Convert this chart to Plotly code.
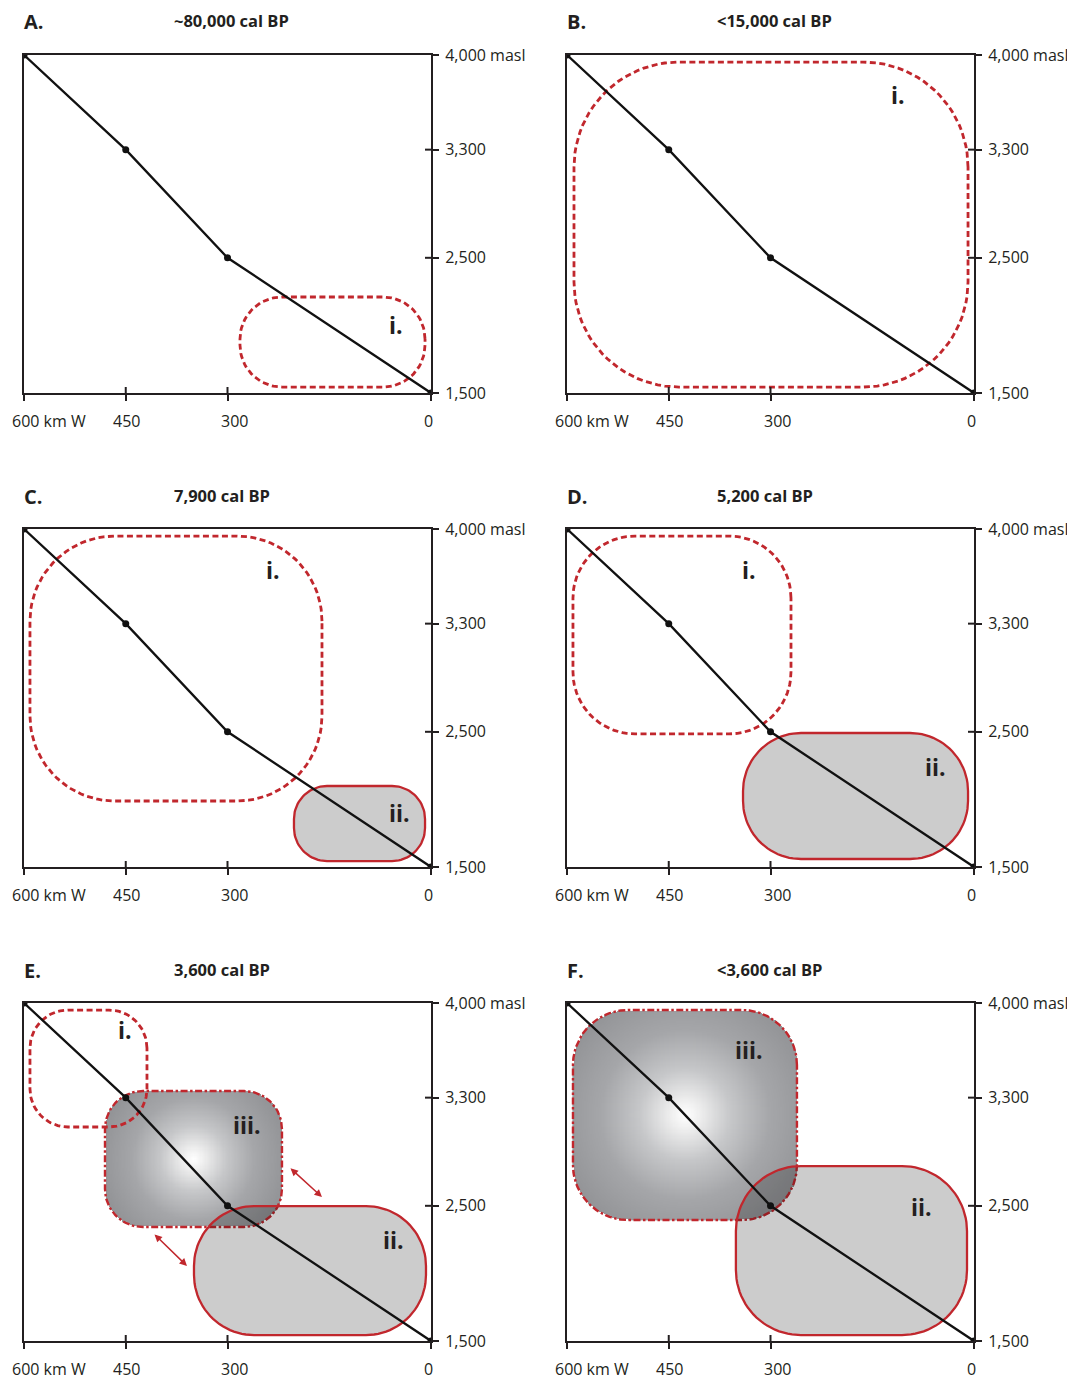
import numpy as np
import plotly.graph_objects as go

W, H = 1075, 1379

# ---------------- data ----------------
distance_km = [600, 450, 300, 0]
elevation_m = [4000, 3300, 2500, 1500]

x_tick_vals = [600, 450, 300, 0]
x_tick_text = ["600 km W", "450", "300", "0"]
y_tick_vals = [4000, 3300, 2500, 1500]
y_tick_text = ["4,000 masl", "3,300", "2,500", "1,500"]

panel_letters = ["A.", "B.", "C.", "D.", "E.", "F."]
panel_titles = ["~80,000 cal BP", "<15,000 cal BP", "7,900 cal BP",
                "5,200 cal BP", "3,600 cal BP", "<3,600 cal BP"]

# zones (km west of reference point, masl)
zone_panel = [0, 1, 2, 2, 3, 3, 4, 4, 4, 5, 5]
zone_label = ["i.", "i.", "i.", "ii.", "i.", "ii.", "i.", "iii.", "ii.", "iii.", "ii."]
zone_kind = ["dashed", "dashed", "dashed", "solid", "dashed", "solid",
             "dashed", "gradient", "solid", "gradient", "solid"]
zone_km_west = [281.6, 589.7, 591.2, 202.0, 591.2, 340.5, 591.2, 480.6, 349.4, 591.2, 351.0]
zone_km_east = [8.8, 8.8, 160.7, 8.8, 269.8, 8.8, 418.7, 219.7, 7.4, 261.0, 10.3]
zone_masl_low = [1544, 1544, 1988, 1544, 2484, 1559, 3083, 2343, 1544, 2395, 1544]
zone_masl_high = [2210, 3948, 3948, 2099, 3948, 2491, 3948, 3349, 2498, 3948, 2794]
zone_label_km = [51.6, 112, 233, 47, 332, 57.4, 451, 271, 56, 332, 78]
zone_label_masl = [2003, 3704, 3697, 1899, 3697, 2240, 3800, 3098, 2247, 3652, 2491]

# arrows in panel E
arrow_panel = [4, 4]
arrow_km_a = [209.3, 409.8]
arrow_masl_a = [2787, 2299]
arrow_km_b = [160.7, 359.7]
arrow_masl_b = [2565, 2055]

# ---------------- style ----------------
zone_corner_px = [42, 105, 85, 33, 62, 58, 38, 38, 60, 55, 65]
RED = "#c1272d"
INK = "#231f20"
FONT = "Open Sans"
OFF = 8  # page body margin

col_left_px = [24 - OFF, 567 - OFF]
row_top_px = [55 - OFF, 529 - OFF, 1003 - OFF]
PW, PH = 407, 338
SX = PW / 600.0      # px per km
SY = PH / 2500.0     # px per m

fig = go.Figure()


def axis_names(p):
    n = p + 1
    return ("x" if n == 1 else f"x{n}"), ("y" if n == 1 else f"y{n}")


def to_px(km, m):
    return (600 - np.asarray(km)) * SX, (np.asarray(m) - 1500) * SY


def from_px(X, Y):
    return 600 - np.asarray(X) / SX, 1500 + np.asarray(Y) / SY


def rounded_outline(xw, xe, ylo, yhi, r):
    (L, B) = to_px(xw, ylo)
    (R, T) = to_px(xe, yhi)
    r = min(r, (R - L) / 2, (T - B) / 2)
    pts_x, pts_y = [], []
    corners = [(R - r, T - r, 0), (L + r, T - r, 90), (L + r, B + r, 180), (R - r, B + r, 270)]
    for cx, cy, a0 in corners:
        a = np.radians(np.linspace(a0, a0 + 90, 24))
        pts_x.extend(cx + r * np.cos(a))
        pts_y.extend(cy + r * np.sin(a))
    pts_x.append(pts_x[0])
    pts_y.append(pts_y[0])
    km, m = from_px(pts_x, pts_y)
    return list(km), list(m)


grad_scale = [[0, "#ffffff"], [0.12, "#ededed"], [0.35, "#c6c7c9"],
              [0.65, "#a5a6a9"], [1, "#939497"]]

# gradient zones first (heatmaps are drawn beneath scatter traces)
for k in range(len(zone_panel)):
    if zone_kind[k] != "gradient":
        continue
    xa, ya = axis_names(zone_panel[k])
    L, B = to_px(zone_km_west[k], zone_masl_low[k])
    R, T = to_px(zone_km_east[k], zone_masl_high[k])
    Xs = np.arange(L, R + 1.2, 1.2)
    Ys = np.arange(B, T + 1.2, 1.2)
    cx, cy = (L + R) / 2, (B + T) / 2
    w2, h2 = (R - L) / 2, (T - B) / 2
    r = min(zone_corner_px[k], w2, h2)
    GX, GY = np.meshgrid(Xs, Ys)
    dx, dy = GX - cx, GY - cy
    qx = np.maximum(np.abs(dx) - (w2 - r), 0)
    qy = np.maximum(np.abs(dy) - (h2 - r), 0)
    inside = (np.abs(dx) <= w2) & (np.abs(dy) <= h2) & (np.hypot(qx, qy) <= r)
    Rg = 0.6 * (w2 + h2)
    z = np.minimum(np.hypot(dx, dy) / Rg, 1.0)
    z = np.where(inside, z, np.nan)
    km_axis, _ = from_px(Xs, 0)
    _, m_axis = from_px(0, Ys)
    order = np.argsort(km_axis)
    fig.add_trace(go.Heatmap(
        x=km_axis[order], y=m_axis, z=z[:, order], colorscale=grad_scale,
        zmin=0, zmax=1, showscale=False, hoverinfo="skip", zsmooth=False,
        xaxis=xa, yaxis=ya))

# outlines
for kind_pass in ["gradient", "dashed", "solid"]:
    for k in range(len(zone_panel)):
        if zone_kind[k] != kind_pass:
            continue
        xa, ya = axis_names(zone_panel[k])
        km, m = rounded_outline(zone_km_west[k], zone_km_east[k],
                                zone_masl_low[k], zone_masl_high[k], zone_corner_px[k])
        if kind_pass == "dashed":
            fig.add_trace(go.Scatter(x=km, y=m, mode="lines", hoverinfo="skip",
                                     line=dict(color=RED, width=2.8, dash="6px,3.5px"),
                                     xaxis=xa, yaxis=ya, showlegend=False))
        elif kind_pass == "solid":
            fig.add_trace(go.Scatter(x=km, y=m, mode="lines", hoverinfo="skip",
                                     fill="toself", fillcolor="rgba(0,0,0,0.2)",
                                     line=dict(color=RED, width=2.3),
                                     xaxis=xa, yaxis=ya, showlegend=False))
        else:
            fig.add_trace(go.Scatter(x=km, y=m, mode="lines", hoverinfo="skip",
                                     line=dict(color=RED, width=2.4, dash="7px,2.5px,2.5px,2.5px"),
                                     xaxis=xa, yaxis=ya, showlegend=False))

# profile lines
for p in range(6):
    xa, ya = axis_names(p)
    fig.add_trace(go.Scatter(x=distance_km, y=elevation_m, mode="lines+markers",
                             line=dict(color="#111111", width=2.3),
                             marker=dict(color="#111111", size=7),
                             hoverinfo="skip", xaxis=xa, yaxis=ya, showlegend=False))

annotations = []
shapes = []
layout_axes = {}
for p in range(6):
    row, col = divmod(p, 2)
    n = p + 1
    xa, ya = axis_names(p)
    x0 = col_left_px[col]
    top = row_top_px[row]
    xdom = [x0 / W, (x0 + PW) / W]
    ydom = [1 - (top + PH) / H, 1 - top / H]
    xkey = "xaxis" if n == 1 else f"xaxis{n}"
    ykey = "yaxis" if n == 1 else f"yaxis{n}"
    layout_axes[xkey] = dict(domain=xdom, anchor=ya, range=[600, 0], showgrid=False,
                             zeroline=False, showline=True, linewidth=2, linecolor=INK,
                             mirror=True, ticks="outside", ticklen=6, tickwidth=2,
                             tickcolor=INK, tickvals=x_tick_vals, showticklabels=False,
                             automargin=False, fixedrange=True)
    layout_axes[ykey] = dict(domain=ydom, anchor=xa, range=[1500, 4000], side="right",
                             showgrid=False, zeroline=False, showline=True, linewidth=2,
                             linecolor=INK, mirror=True, ticks="outside", ticklen=6,
                             tickwidth=2, tickcolor=INK, tickvals=y_tick_vals,
                             ticktext=y_tick_text, ticklabelstandoff=3,
                             tickfont=dict(family=FONT, size=16, color=INK),
                             automargin=False, fixedrange=True)
    # inner half of crossing ticks
    for v in x_tick_vals[1:3]:
        shapes.append(dict(type="line", xref=xa, yref=ya, x0=v, x1=v, ysizemode="pixel",
                           yanchor=1500, y0=-6, y1=6, line=dict(color=INK, width=2)))
    for v in y_tick_vals[1:3]:
        shapes.append(dict(type="line", xref=xa, yref=ya, y0=v, y1=v, xsizemode="pixel",
                           xanchor=0, x0=-6, x1=6, line=dict(color=INK, width=2)))
    # bottom tick labels
    shifts = [25, 1, 7, -3]
    for v, t, s in zip(x_tick_vals, x_tick_text, shifts):
        annotations.append(dict(x=v, y=1500, xref=xa, yref=ya, text=t, showarrow=False,
                                xanchor="center", yanchor="middle", xshift=s, yshift=-28,
                                font=dict(family=FONT, size=16, color=INK)))
    # panel letter and title
    annotations.append(dict(x=0, y=1500, xref=f"{xa} domain", yref=ya,
                            text=f"<b>{panel_letters[p]}</b>", showarrow=False,
                            xanchor="left", yanchor="middle", xshift=-1, yshift=PH + 33,
                            borderpad=0, font=dict(family=FONT, size=20, color=INK)))
    annotations.append(dict(x=149 / PW, y=1500, xref=f"{xa} domain", yref=ya,
                            text=f"<b>{panel_titles[p]}</b>", showarrow=False,
                            xanchor="left", yanchor="middle", yshift=PH + 34,
                            borderpad=0, font=dict(family=FONT, size=16.5, color=INK)))

# zone labels
for k in range(len(zone_panel)):
    xa, ya = axis_names(zone_panel[k])
    annotations.append(dict(x=zone_label_km[k], y=zone_label_masl[k], xref=xa, yref=ya,
                            text=f"<b>{zone_label[k]}</b>", showarrow=False,
                            xanchor="center", yanchor="middle",
                            font=dict(family=FONT, size=23, color=INK)))

# double-headed arrows
for j in range(len(arrow_panel)):
    xa, ya = axis_names(arrow_panel[j])
    annotations.append(dict(x=arrow_km_b[j], y=arrow_masl_b[j], ax=arrow_km_a[j],
                            ay=arrow_masl_a[j], xref=xa, yref=ya, axref=xa, ayref=ya,
                            text="", showarrow=True, arrowhead=2, startarrowhead=2,
                            arrowside="end+start", arrowsize=1, startarrowsize=1,
                            arrowwidth=1.5, arrowcolor=RED))

fig.update_layout(width=W, height=H, margin=dict(l=0, r=0, t=0, b=0, autoexpand=False),
                  paper_bgcolor="white", plot_bgcolor="white", showlegend=False,
                  annotations=annotations, shapes=shapes, **layout_axes)

fig.write_html("out.html")
